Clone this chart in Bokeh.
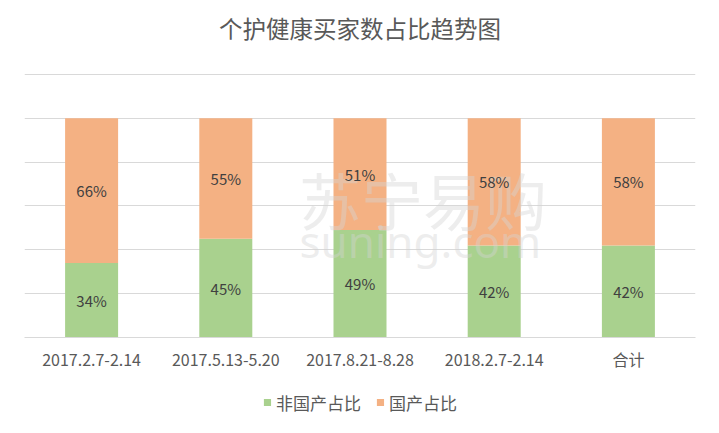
from bokeh.plotting import figure
from bokeh.models import ColumnDataSource, Range1d, FixedTicker, Legend, LegendItem
from bokeh.layouts import column
from bokeh.core.properties import value
from bokeh.embed import file_html
from bokeh.resources import INLINE

categories = ["2017.2.7-2.14", "2017.5.13-5.20", "2017.8.21-8.28", "2018.2.7-2.14", "合计"]
non_domestic = [34, 45, 49, 42, 42]
domestic = [66, 55, 51, 58, 58]
series_names = ["非国产占比", "国产占比"]
colors = ["#a9d18e", "#f4b183"]
title_text = "个护健康买家数占比趋势图"

FONT = "Noto Sans CJK SC"
xs = list(range(len(categories)))

src = ColumnDataSource(dict(
    x=xs,
    non=non_domestic,
    dom=domestic,
    non_mid=[v / 2 for v in non_domestic],
    dom_mid=[a + b / 2 for a, b in zip(non_domestic, domestic)],
    non_lbl=[f"{v}%" for v in non_domestic],
    dom_lbl=[f"{v}%" for v in domestic],
))

# title strip
tf = figure(width=719, height=73, output_backend="svg", toolbar_location=None,
            x_range=Range1d(0, 1), y_range=Range1d(0, 73), min_border=0)
tf.axis.visible = False
tf.grid.grid_line_color = None
tf.outline_line_color = None
tf.text(x=[0.5], y=[46], text=[title_text], text_font=value(FONT), text_font_size="23.5px",
        text_color="#595959", text_align="center", text_baseline="middle")

# main chart
p = figure(width=719, height=305, output_backend="svg", toolbar_location=None,
           x_range=Range1d(-0.5, len(categories) - 0.5), y_range=Range1d(0, 120.4),
           min_border_left=24, min_border_right=24, min_border_top=0, min_border_bottom=41)

p.outline_line_color = None
p.xgrid.grid_line_color = None
p.ygrid.grid_line_color = "#d9d9d9"
p.ygrid.ticker = FixedTicker(ticks=[0, 20, 40, 60, 80, 100, 120])
p.yaxis.visible = False

ax = p.xaxis[0]
ax.ticker = FixedTicker(ticks=xs)
ax.major_label_overrides = {i: c for i, c in enumerate(categories)}
ax.major_tick_line_color = None
ax.major_tick_out = 0
ax.major_tick_in = 0
ax.minor_tick_line_color = None
ax.axis_line_color = "#d9d9d9"
ax.major_label_text_font = FONT
ax.major_label_text_font_size = "16px"
ax.major_label_text_color = "#595959"
ax.major_label_standoff = 9

bars = p.vbar_stack(["non", "dom"], x="x", width=0.395, source=src, color=colors, line_color=None)

# watermark (drawn over the bars, semi-transparent)
p.text(x=[2.47], y=[63], text=["苏宁易购"], text_font=value(FONT), text_font_size="62px",
       text_color="#d4d4d4", text_alpha=0.42, text_align="center", text_baseline="middle")
p.text(x=[2.45], y=[44], text=["suning.com"], text_font=value("Noto Sans"), text_font_size="44px",
       text_color="#d4d4d4", text_alpha=0.42, text_align="center", text_baseline="middle")

p.text(x="x", y="non_mid", text="non_lbl", source=src, text_font=value(FONT), text_font_size="15px",
       text_color="#404040", text_align="center", text_baseline="middle")
p.text(x="x", y="dom_mid", text="dom_lbl", source=src, text_font=value(FONT), text_font_size="15px",
       text_color="#404040", text_align="center", text_baseline="middle")

# legend strip below the chart (zero-height swatch bars carry the legend colours)
lf = figure(width=719, height=47, output_backend="svg", toolbar_location=None,
            x_range=Range1d(0, 1), y_range=Range1d(0, 1), min_border=0)
lf.axis.visible = False
lf.grid.grid_line_color = None
lf.outline_line_color = None
swatch = ColumnDataSource(dict(x=[0.5], top=[0]))
r_non = lf.vbar(x="x", top="top", width=0.01, source=swatch, color=colors[0], line_color=None)
r_dom = lf.vbar(x="x", top="top", width=0.01, source=swatch, color=colors[1], line_color=None)
legend = Legend(items=[LegendItem(label=series_names[0], renderers=[r_non]),
                       LegendItem(label=series_names[1], renderers=[r_dom])],
                orientation="horizontal", location="center",
                label_text_font=FONT, label_text_font_size="17px", label_text_color="#595959",
                glyph_width=9, glyph_height=9, label_standoff=5, spacing=14,
                padding=4, margin=0, border_line_color=None, background_fill_alpha=0)
lf.add_layout(legend, "center")

page = column(tf, p, lf, spacing=0)
open("out.html", "w").write(file_html(page, INLINE))
